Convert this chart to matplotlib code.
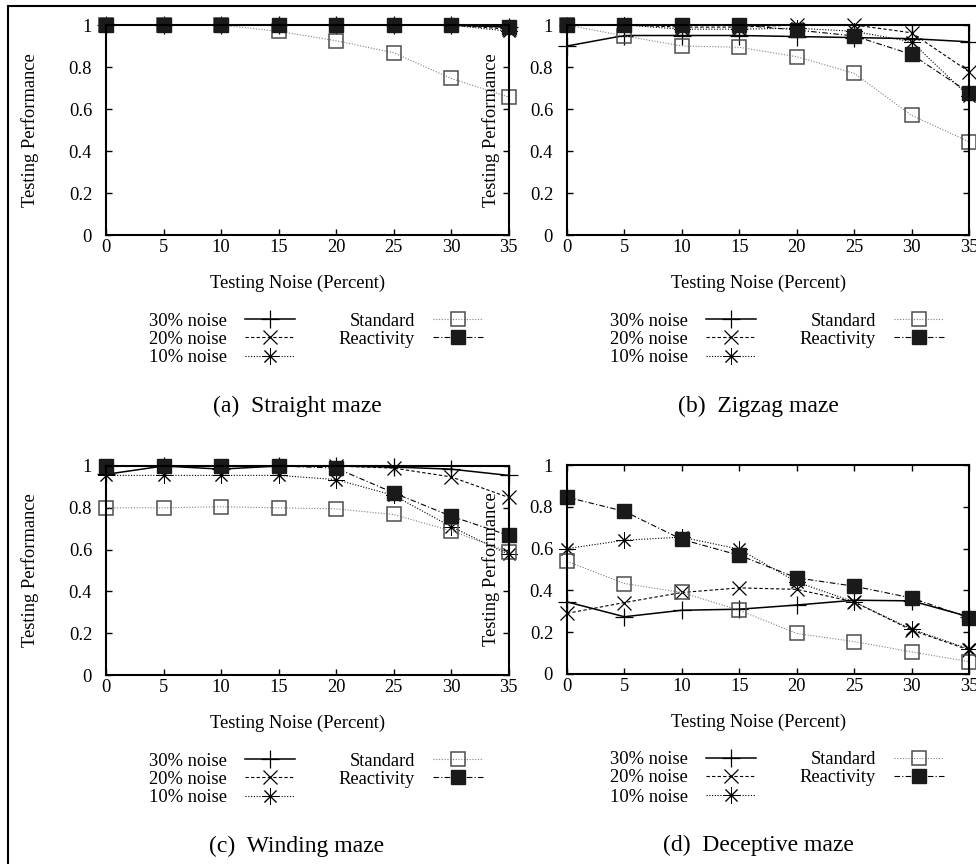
import matplotlib
matplotlib.use("Agg")
import matplotlib.pyplot as plt
from matplotlib.patches import Rectangle

plt.rcParams['font.family'] = ['Liberation Serif', 'DejaVu Serif']
plt.rcParams['font.size'] = 13.3

noise = [0, 5, 10, 15, 20, 25, 30, 35]
yticks = [0, 0.2, 0.4, 0.6, 0.8, 1]
ytick_labels = ["0", "0.2", "0.4", "0.6", "0.8", "1"]

series_names = ["30% noise", "20% noise", "10% noise", "Standard", "Reactivity"]
captions = ["(a)  Straight maze", "(b)  Zigzag maze", "(c)  Winding maze", "(d)  Deceptive maze"]

# straight maze
a30 = [1, 1, 1, 1, 1, 1, 1, 0.99]
a20 = [1, 1, 1, 1, 1, 1, 1, 0.98]
a10 = [1, 1, 1, 1, 1, 1, 1, 0.97]
a_std = [1, 1, 1, 0.97, 0.925, 0.868, 0.746, 0.657]
a_rea = [1, 1, 1, 1, 1, 1, 1, 0.99]

# zigzag maze
b30 = [0.9, 0.95, 0.95, 0.95, 0.945, 0.94, 0.935, 0.92]
b20 = [1, 1, 0.99, 0.99, 1.0, 1.0, 0.963, 0.778]
b10 = [1, 1, 0.98, 0.98, 0.985, 0.97, 0.92, 0.66]
b_std = [1, 0.948, 0.9, 0.894, 0.849, 0.77, 0.57, 0.444]
b_rea = [1, 1, 1, 1, 0.976, 0.948, 0.86, 0.678]

# winding maze
c30 = [0.96, 1.0, 0.985, 1.0, 1.0, 0.995, 0.985, 0.955]
c20 = [1, 1, 1, 1, 1, 0.99, 0.948, 0.85]
c10 = [0.955, 0.955, 0.955, 0.955, 0.935, 0.86, 0.71, 0.577]
c_std = [0.8, 0.8, 0.805, 0.8, 0.795, 0.768, 0.69, 0.59]
c_rea = [1, 1, 1, 1, 0.99, 0.872, 0.76, 0.668]

# deceptive maze
d30 = [0.345, 0.274, 0.305, 0.31, 0.33, 0.353, 0.35, 0.274]
d20 = [0.29, 0.342, 0.39, 0.412, 0.405, 0.345, 0.21, 0.115]
d10 = [0.6, 0.64, 0.655, 0.597, 0.44, 0.345, 0.215, 0.12]
d_std = [0.539, 0.433, 0.39, 0.305, 0.194, 0.155, 0.106, 0.059]
d_rea = [0.846, 0.778, 0.644, 0.568, 0.46, 0.42, 0.364, 0.269]

panels = [
    [a30, a20, a10, a_std, a_rea],
    [b30, b20, b10, b_std, b_rea],
    [c30, c20, c10, c_std, c_rea],
    [d30, d20, d10, d_std, d_rea],
]

styles = [
    dict(color='k', lw=1.1, ls='-', marker='+', ms=13, mew=0.9),
    dict(color='k', lw=0.8, ls=(0, (3, 2)), marker='x', ms=10, mew=0.9),
    dict(color='k', lw=0.8, ls=(0, (1, 1.5)), marker=(8, 2, 0), ms=12, mew=0.7),
    dict(color='0.5', lw=0.8, ls=(0, (1, 1.5)), marker='s', ms=10, mew=1.1,
         mfc='none', mec='0.3'),
    dict(color='k', lw=0.8, ls=(0, (5, 2, 1, 2)), marker='s', ms=10, mew=1.0,
         mfc='#1a1a1a', mec='#1a1a1a'),
]

W, H = 976, 864
fig = plt.figure(figsize=(W / 100, H / 100), dpi=100)

# pixel boxes (left, top, right, bottom)
boxes = [(106, 25, 508.5, 235), (567, 25, 969, 235),
         (106, 466, 508.5, 675), (567, 465, 969, 674)]

for k, (l, t, r, b) in enumerate(boxes):
    ax = fig.add_axes([l / W, 1 - b / H, (r - l) / W, (b - t) / H])
    handles = []
    for vals, st in zip(panels[k], styles):
        h, = ax.plot(noise, vals, clip_on=False, **st)
        handles.append(h)
    ax.set_xlim(0, 35)
    ax.set_ylim(0, 1)
    ax.set_xticks(noise)
    ax.set_yticks(yticks)
    ax.set_yticklabels(ytick_labels)
    ax.tick_params(direction='in', top=True, right=True, length=4.5, width=1)
    ax.tick_params(axis='x', pad=3)
    ax.tick_params(axis='y', pad=10)
    for sp in ax.spines.values():
        sp.set_linewidth(1.5)
    ax.set_xlabel("Testing Noise (Percent)")
    ax.xaxis.set_label_coords(0.477, -0.19)
    ax.set_ylabel("Testing Performance")
    ax.yaxis.set_label_coords(-0.166, 0.5)

    # gnuplot style key: two columns, text right aligned before sample
    rows = [b + 86, b + 104, b + 123, b + 86, b + 104]
    cols = [l + 189] * 3 + [l + 377] * 2
    for h, name, xr, yr in zip(handles, series_names, cols, rows):
        fig.legend([h], [name], loc='center right',
                   bbox_to_anchor=(xr / W, 1 - yr / H),
                   frameon=False, borderpad=0, borderaxespad=0,
                   handlelength=2.7, handletextpad=1.0,
                   markerfirst=False, numpoints=1)

    fig.text((l + 191) / W, 1 - (b + 171) / H, captions[k],
             ha='center', va='center', fontsize=17)

# outer frame
fig.patches.append(Rectangle((8 / W, -0.05), 1.1, 1 - 6 / H + 0.05,
                             transform=fig.transFigure, fill=False,
                             lw=1.5, ec='k'))

fig.savefig("out.png", dpi=100)
